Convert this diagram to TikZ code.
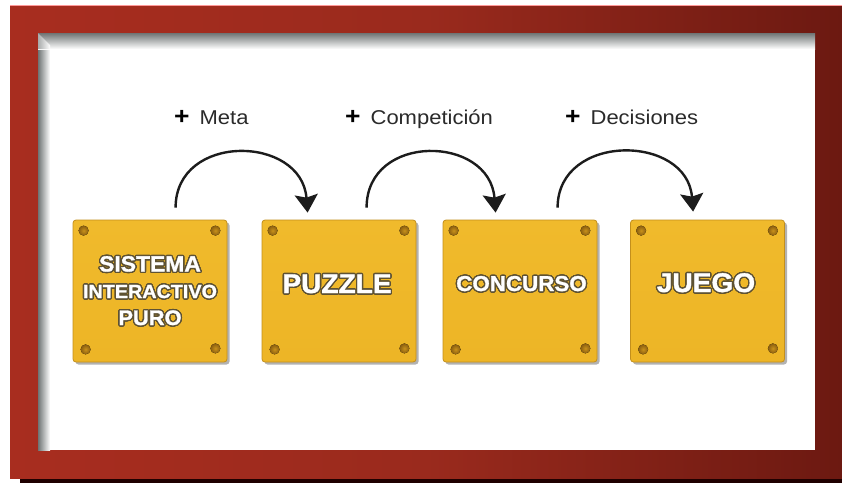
\documentclass[tikz,border=0pt]{standalone}
\usepackage{fontspec}
\setmainfont{Liberation Sans}
\newfontfamily\labfont{Liberation Sans}[FakeStretch=1.1]
\newfontfamily\tilefont{Liberation Sans}[FakeStretch=1.04,FakeBold=1.3]
\usepackage{contour}
\contourlength{1.3pt}
\contournumber{24}
\usetikzlibrary{arrows.meta,calc,shadows}
\definecolor{frameL}{HTML}{A82D1F}
\definecolor{frameM}{HTML}{9A2A1D}
\definecolor{frameR}{HTML}{6C1911}
\definecolor{innershade}{HTML}{6F7474}
\definecolor{tilefill}{HTML}{EDB526}
\definecolor{tiletop}{HTML}{F0BA2C}
\definecolor{tileedge}{HTML}{C38F1C}
\definecolor{screwin}{HTML}{C8911B}
\definecolor{screwout}{HTML}{8A5E10}
\definecolor{outl}{HTML}{5E5234}
\definecolor{arrowc}{HTML}{1C1C1C}
\definecolor{labc}{HTML}{2A2A2A}
\tikzset{
  tile/.style={draw=tileedge, line width=0.8pt, rounded corners=3pt,
    top color=tiletop, bottom color=tilefill,
    minimum width=154pt, minimum height=142pt, inner sep=0pt,
    drop shadow={shadow xshift=2.5pt, shadow yshift=-2.5pt, fill=black!55, opacity=.55}},
  screw/.style={inner color=screwin, outer color=screwout},
  tiletext/.style={text=white, anchor=base, inner sep=0pt},
  steplabel/.style={anchor=base west, inner sep=0pt, text=labc, font=\labfont\fontsize{20}{24}\selectfont},
  arc/.style={draw=arrowc, line width=2.4pt, -{Stealth[length=18pt,width=23pt,inset=3pt]}}
}
\begin{document}
\begin{tikzpicture}[x=1pt,y=-1pt]
\useasboundingbox (0,0) rectangle (842,483);
% frame
\fill[white] (0,0) rectangle (842,483);
\fill[black!80!red!60!black] (20,476) rectangle (842,483);
\shade[left color=frameL, right color=frameR, middle color=frameM] (10,5) rectangle (842,478);
\draw[red!40!white, line width=0.8pt] (10,5.4) -- (842,5.4);
\fill[white] (38,33) rectangle (815,450);
\shade[left color=innershade, right color=white] (38,33) rectangle (50,450);
\shade[top color=innershade, bottom color=white] (38,33) rectangle (815,49);
\shade[left color=innershade!60!white, right color=white] (38,33) -- (50,45) -- (50,49) -- (38,49) -- cycle;
% tiles
\node[tile] (b1) at (150,291) {};
\node[tile] (b2) at (339,291) {};
\node[tile] (b3) at (520,291) {};
\node[tile] (b4) at (707.5,291) {};
\foreach \b in {b1,b2,b3,b4}{
  \fill[screw] ($(\b.north west)+(11,11)$) circle (5pt);
  \fill[screw] ($(\b.north east)+(-12,11)$) circle (5pt);
  \fill[screw] ($(\b.south west)+(13,-13)$) circle (5pt);
  \fill[screw] ($(\b.south east)+(-12,-14)$) circle (5pt);
}
% tile texts
\node[tiletext, font=\tilefont\bfseries\fontsize{22}{26}\selectfont] (t1a) at (150,271.5) {\contour{outl}{SISTEMA}};
\node[tiletext, font=\tilefont\bfseries\fontsize{19}{23}\selectfont] (t1b) at (150,298) {\contour{outl}{INTERACTIVO}};
\node[tiletext, font=\tilefont\bfseries\fontsize{21}{25}\selectfont] (t1c) at (150,325) {\contour{outl}{PURO}};
\node[tiletext, font=\tilefont\bfseries\fontsize{27}{31}\selectfont] (t2) at (337,293) {\contour{outl}{PUZZLE}};
\node[tiletext, font=\tilefont\bfseries\fontsize{21.5}{26}\selectfont] (t3) at (521.5,291) {\contour{outl}{CONCURSO}};
\node[tiletext, font=\tilefont\bfseries\fontsize{27}{31}\selectfont] (t4) at (706,292) {\contour{outl}{JUEGO}};
% labels
\node[steplabel] (l1) at (174,124) {\textcolor{black}{\bfseries\fontsize{24}{24}\selectfont +}\hspace{0.5em}Meta};
\node[steplabel] (l2) at (345,124) {\textcolor{black}{\bfseries\fontsize{24}{24}\selectfont +}\hspace{0.5em}Competición};
\node[steplabel] (l3) at (565,124) {\textcolor{black}{\bfseries\fontsize{24}{24}\selectfont +}\hspace{0.5em}Decisiones};
% connectors
\coordinate (a1s) at ($(b1.north west)+(103,-12)$);
\coordinate (a1e) at ($(b2.north west)+(46,-7)$);
\coordinate (a2s) at ($(b2.north west)+(105,-12)$);
\coordinate (a2e) at ($(b3.north west)+(53,-7)$);
\coordinate (a3s) at ($(b3.north west)+(115,-12)$);
\coordinate (a3e) at ($(b4.north west)+(63,-8)$);
\draw[arc] (a1s) .. controls +(0,-75) and +(-6,-78) .. (a1e);
\draw[arc] (a2s) .. controls +(0,-75) and +(-6,-78) .. (a2e);
\draw[arc] (a3s) .. controls +(0,-75) and +(-6,-78) .. (a3e);
\end{tikzpicture}
\end{document}
